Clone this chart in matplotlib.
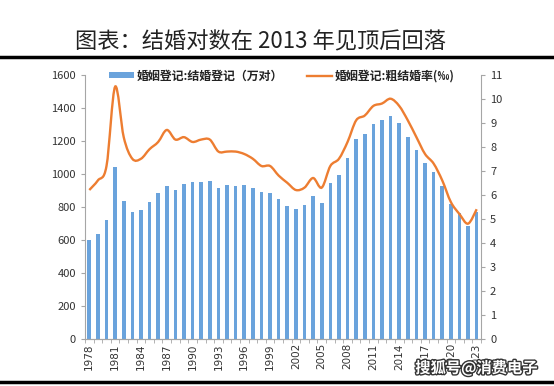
import matplotlib.pyplot as plt
import matplotlib.patheffects as pe
import numpy as np
from matplotlib.path import Path
from matplotlib.patches import PathPatch
from matplotlib.lines import Line2D
from matplotlib.patches import Patch

plt.rcParams['font.family'] = ['Noto Sans CJK SC', 'DejaVu Sans']

years = list(range(1978, 2024))
marriages = [597.8, 637.1, 720.9, 1043.0, 836.2, 767.9, 783.1, 831.3, 884.0, 926.0,
             899.0, 937.0, 951.0, 953.0, 956.0, 913.0, 932.0, 929.0, 934.0, 914.0,
             891.7, 885.3, 848.5, 805.0, 786.0, 811.4, 867.2, 823.1, 945.0, 991.4,
             1098.3, 1212.4, 1241.0, 1302.4, 1323.6, 1346.9, 1306.7, 1224.7, 1142.8, 1063.1,
             1013.9, 927.3, 814.3, 764.3, 683.5, 768.0]
rate = [6.2, 6.6, 7.2, 10.5, 8.4, 7.5, 7.5, 7.9, 8.2, 8.7,
        8.3, 8.4, 8.2, 8.3, 8.3, 7.8, 7.8, 7.8, 7.7, 7.5,
        7.2, 7.2, 6.8, 6.5, 6.2, 6.3, 6.7, 6.3, 7.2, 7.5,
        8.2, 9.1, 9.3, 9.7, 9.8, 10.0, 9.7, 9.1, 8.4, 7.7,
        7.3, 6.6, 5.7, 5.2, 4.8, 5.4]
xtick_years = years[::3]

BAR_COLOR = '#6aa3dc'
LINE_COLOR = '#ed7d31'
AXIS_COLOR = '#a6a6a6'
TEXT_COLOR = '#333333'


def smooth_path(xs, ys, tension=1. / 6):
    """
    Catmull-Rom style bezier path through the data points
    """
    pts = np.column_stack([xs, ys])
    verts = [pts[0]]
    codes = [Path.MOVETO]
    n = len(pts)
    for i in range(n - 1):
        p0 = pts[max(i - 1, 0)]
        p1 = pts[i]
        p2 = pts[i + 1]
        p3 = pts[min(i + 2, n - 1)]
        c1 = p1 + (p2 - p0) * tension
        c2 = p2 - (p3 - p1) * tension
        verts += [c1, c2, p2]
        codes += [Path.CURVE4] * 3
    return Path(verts, codes)


fig = plt.figure(figsize=(5.54, 3.86), dpi=100)
ax = fig.add_axes([0.1534, 0.1218, 0.7148, 0.6847])
ax2 = ax.twinx()

x = np.arange(len(years))
ax.bar(x, marriages, width=0.42, color=BAR_COLOR, zorder=2)
ax.set_xlim(-0.5, len(years) - 0.5)
ax.set_ylim(0, 1600)
ax.set_yticks(range(0, 1601, 200))

ax2.add_patch(PathPatch(smooth_path(x, rate), fill=False, edgecolor=LINE_COLOR,
                        linewidth=1.7, zorder=3))
ax2.set_ylim(0, 11)
ax2.set_yticks(range(0, 12))

ax.set_xticks([years.index(y) for y in xtick_years])
ax.set_xticklabels([str(y) for y in xtick_years], rotation=90, fontsize=7.5,
                   color=TEXT_COLOR, family='DejaVu Sans')
ax.set_xticks(np.arange(-0.5, len(years), 1), minor=True)
ax.tick_params(axis='x', which='major', length=0, pad=3)
ax.tick_params(axis='x', which='minor', length=3, color=AXIS_COLOR)

for a in (ax, ax2):
    a.spines['top'].set_visible(False)
    for s in ('left', 'right', 'bottom'):
        a.spines[s].set_color(AXIS_COLOR)
    a.tick_params(axis='y', labelsize=8, labelcolor=TEXT_COLOR, color=AXIS_COLOR, length=3)
ax.spines['right'].set_visible(False)
ax2.spines['left'].set_visible(False)

handles = [Patch(facecolor=BAR_COLOR), Line2D([], [], color=LINE_COLOR, linewidth=1.7)]
labels = ['婚姻登记:结婚登记（万对）', '婚姻登记:粗结婚率(‰)']
leg = ax2.legend(handles, labels, ncol=2, frameon=False, loc='center',
                 bbox_to_anchor=(0.497, 0.995), fontsize=8.6, handlelength=2.1,
                 handleheight=0.45, columnspacing=2.0, handletextpad=0.25,
                 borderpad=0, borderaxespad=0)
for t in leg.get_texts():
    t.set_fontweight('bold')
    t.set_color('#222222')

fig.text(0.47, 0.891, '图表：结婚对数在 2013 年见顶后回落', ha='center', va='center',
         fontsize=16, color='#222222')
fig.add_artist(Line2D([0, 1], [0.853, 0.853], color='black', linewidth=2.5))
fig.add_artist(Line2D([0, 1], [0.011, 0.011], color='black', linewidth=2.5))

fig.text(0.97, 0.046, '搜狐号@消费电子', ha='right', va='center', fontsize=11,
         color='white', fontweight='bold',
         path_effects=[pe.withStroke(linewidth=2, foreground='#333333')])

fig.savefig('out.png', dpi=100)
